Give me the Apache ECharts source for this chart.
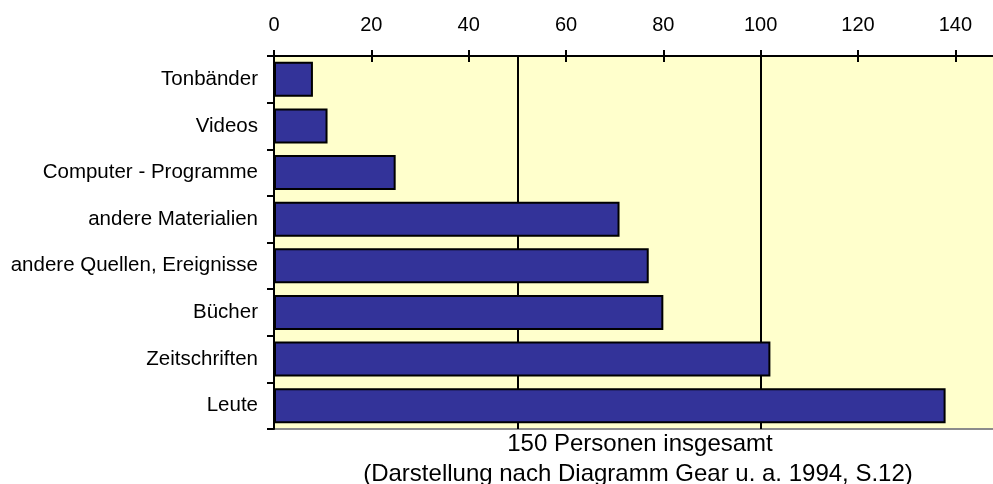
<!DOCTYPE html>
<html>
<head>
<meta charset="utf-8">
<script src="https://cdn.jsdelivr.net/npm/echarts@6/dist/echarts.min.js"></script>
<style>
  html, body { margin: 0; padding: 0; background: #ffffff; }
  #chart { width: 993px; height: 484px; }
</style>
</head>
<body>
<div id="chart"></div>
<script>
// Information sources named by the respondents (count of persons)
const categories = [
  'Tonbänder',
  'Videos',
  'Computer - Programme',
  'andere Materialien',
  'andere Quellen, Ereignisse',
  'Bücher',
  'Zeitschriften',
  'Leute'
];
const persons = [8, 11, 25, 71, 77, 80, 102, 138];

const axisMax = 150;
const labelStep = 20;
const gridStep = 50;

const captionLines = [
  '150 Personen insgesamt',
  '(Darstellung nach Diagramm Gear u. a. 1994, S.12)'
];

const FONT = '"Liberation Sans", Arial, Helvetica, sans-serif';

// plot area runs past the right edge of the canvas
const plot = { left: 274, top: 56, width: 730, height: 373, outerBoundsMode: 'none', containLabel: false };

const chart = echarts.init(document.getElementById('chart'), null, { renderer: 'canvas' });

chart.setOption({
  animation: false,
  backgroundColor: '#ffffff',
  grid: [
    Object.assign({
      show: true,
      backgroundColor: '#FFFFCC',
      borderColor: '#8c8c8c',
      borderWidth: 2
    }, plot),
    Object.assign({ show: false }, plot)
  ],
  xAxis: [
    {
      // labelled top axis carrying the bars
      type: 'value',
      gridIndex: 0,
      position: 'top',
      min: 0,
      max: axisMax,
      interval: labelStep,
      axisLine: { show: true, lineStyle: { color: '#000', width: 2 } },
      axisTick: { show: true, inside: false, length: 6, lineStyle: { color: '#000', width: 2 } },
      axisLabel: {
        show: true,
        margin: 21,
        fontSize: 20,
        fontFamily: FONT,
        color: '#000',
        showMaxLabel: false,
        formatter: v => (v % labelStep === 0 ? String(v) : '')
      },
      splitLine: { show: false }
    },
    {
      // coarse vertical gridlines every 50 persons
      type: 'value',
      gridIndex: 0,
      position: 'bottom',
      min: 0,
      max: axisMax,
      interval: gridStep,
      axisLine: { show: false },
      axisTick: { show: false },
      axisLabel: { show: false },
      splitLine: { show: true, lineStyle: { color: '#000', width: 2 } }
    },
    {
      // inner half of the top tick marks
      type: 'value',
      gridIndex: 1,
      position: 'top',
      min: 0,
      max: axisMax,
      interval: labelStep,
      z: 6,
      axisLine: { show: false },
      axisTick: { show: true, inside: true, length: 6, lineStyle: { color: '#000', width: 2 } },
      axisLabel: { show: false },
      splitLine: { show: false }
    }
  ],
  yAxis: [
    {
      type: 'category',
      gridIndex: 0,
      data: categories,
      inverse: true,
      axisLine: { show: true, lineStyle: { color: '#000', width: 2 } },
      axisTick: { show: true, inside: false, length: 7, lineStyle: { color: '#000', width: 2 } },
      axisLabel: {
        margin: 16,
        fontSize: 20.5,
        fontFamily: FONT,
        color: '#000'
      },
      splitLine: { show: false }
    },
    {
      type: 'category',
      gridIndex: 1,
      data: categories,
      inverse: true,
      show: false
    }
  ],
  series: [
    {
      type: 'bar',
      xAxisIndex: 0,
      yAxisIndex: 0,
      data: persons,
      barCategoryGap: '25%',
      itemStyle: {
        color: '#333399',
        borderColor: '#000',
        borderWidth: 2
      },
      z: 3
    }
  ],
  graphic: [
    {
      type: 'text',
      x: 640,
      y: 444,
      z: 10,
      style: {
        text: captionLines[0],
        fontSize: 24,
        fontFamily: FONT,
        fill: '#000',
        align: 'center',
        verticalAlign: 'middle'
      }
    },
    {
      type: 'text',
      x: 638,
      y: 474,
      z: 10,
      style: {
        text: captionLines[1],
        fontSize: 24,
        fontFamily: FONT,
        fill: '#000',
        align: 'center',
        verticalAlign: 'middle'
      }
    }
  ]
});
</script>
</body>
</html>
